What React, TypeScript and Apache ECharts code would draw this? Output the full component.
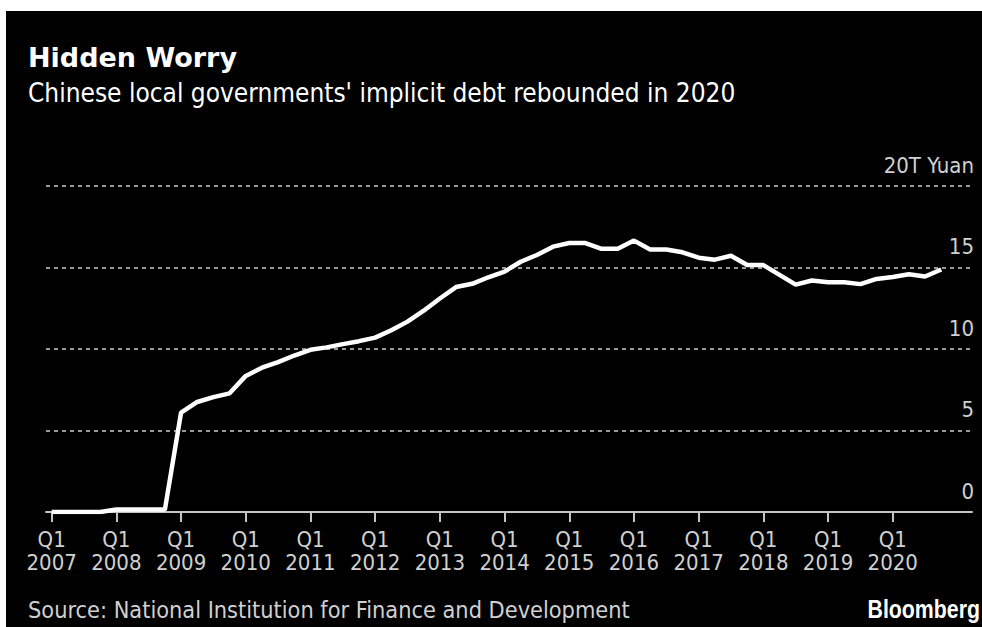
import React, { useEffect, useRef } from "react";
import * as echarts from "echarts";

// Tick labels (first quarter of each year)
const tickYears = [
  "2007", "2008", "2009", "2010", "2011", "2012", "2013",
  "2014", "2015", "2016", "2017", "2018", "2019", "2020",
];
const quarterNames = ["Q1", "Q2", "Q3", "Q4"];

// Implicit debt of Chinese local governments, trillion yuan, Q1 2007 .. Q4 2020
const debtTrillionYuan = [
  0, 0, 0, 0,
  0.15, 0.15, 0.15, 0.15,
  6.1, 6.75, 7.05, 7.28,
  8.35, 8.85, 9.2, 9.6,
  9.95, 10.1, 10.3, 10.48,
  10.7, 11.15, 11.68, 12.35,
  13.1, 13.8, 14.0, 14.4,
  14.75, 15.35, 15.77, 16.28,
  16.5, 16.5, 16.15, 16.15,
  16.65, 16.1, 16.1, 15.93,
  15.6, 15.48, 15.72, 15.15,
  15.15, 14.55, 13.95, 14.2,
  14.1, 14.1, 13.98, 14.3,
  14.42, 14.58, 14.45, 14.88,
];

const yTicks = [0, 5, 10, 15, 20];
const yUnit = "T Yuan";

const FONT = '"DejaVu Sans Condensed", "DejaVu Sans", sans-serif';

export default function App() {
  const ref = useRef<HTMLDivElement>(null);

  useEffect(() => {
    if (!ref.current) return;
    const chart = echarts.init(ref.current, undefined, { renderer: "svg" });

    const quarterLabels = tickYears.flatMap((y) => quarterNames.map((q) => `${q} ${y}`));
    const seriesData = debtTrillionYuan.map((v, i) => [i, v]);
    const tickPositions = tickYears.map((_, i) => i * 4);

    chart.setOption({
      animation: false,
      backgroundColor: "#000000",
      grid: { left: 46, right: 10, top: 186, bottom: 115, containLabel: false },
      xAxis: {
        type: "value",
        min: -0.35,
        max: 56.9,
        axisLine: { show: true, lineStyle: { color: "#c4c4c4", width: 2 } },
        axisTick: {
          show: true,
          length: 10,
          customValues: tickPositions,
          lineStyle: { color: "#c4c4c4", width: 2 },
        },
        axisLabel: {
          customValues: tickPositions,
          formatter: (v: number) => {
            const label = quarterLabels[Math.round(v)] || "";
            const [q, y] = label.split(" ");
            return `${q}\n${y}`;
          },
          color: "#d0d0d0",
          fontFamily: FONT,
          fontSize: 22,
          lineHeight: 23,
          margin: 16,
        },
        splitLine: { show: false },
      },
      yAxis: {
        type: "value",
        position: "right",
        min: yTicks[0],
        max: yTicks[yTicks.length - 1],
        interval: 5,
        axisLine: { show: false },
        axisTick: { show: false },
        axisLabel: {
          inside: true,
          margin: -2,
          verticalAlign: "bottom",
          padding: [0, 0, 10, 0],
          color: "#d0d0d0",
          fontFamily: FONT,
          fontSize: 22,
          formatter: (v: number) => (v === yTicks[yTicks.length - 1] ? `${v}${yUnit}` : `${v}`),
        },
        splitLine: {
          show: true,
          lineStyle: { color: "#9a9a9a", width: 2, type: [4, 4] },
        },
      },
      series: [
        {
          type: "line",
          data: seriesData,
          symbol: "none",
          lineStyle: { color: "#ffffff", width: 4.5 },
          z: 5,
        },
      ],
      graphic: [
        { type: "rect", left: 0, top: 0, shape: { width: 982, height: 11 }, style: { fill: "#ffffff" } },
        { type: "rect", left: 0, top: 0, shape: { width: 6, height: 627 }, style: { fill: "#ffffff" } },
        {
          type: "text",
          x: 28,
          y: 57,
          style: {
            text: "Hidden Worry",
            fill: "#ffffff",
            font: 'bold 27px "DejaVu Sans", sans-serif',
            textVerticalAlign: "middle",
          },
        },
        {
          type: "text",
          x: 28,
          y: 93,
          style: {
            text: "Chinese local governments' implicit debt rebounded in 2020",
            fill: "#ffffff",
            font: `26px ${FONT}`,
            textVerticalAlign: "middle",
          },
        },
        {
          type: "text",
          x: 28,
          y: 609,
          style: {
            text: "Source: National Institution for Finance and Development",
            fill: "#d0d0d0",
            font: `23.3px ${FONT}`,
            textVerticalAlign: "middle",
          },
        },
        {
          type: "text",
          x: 980,
          y: 609,
          scaleX: 0.82,
          style: {
            text: "Bloomberg",
            fill: "#ffffff",
            font: 'bold 26px "Liberation Sans", Arial, sans-serif',
            textAlign: "right",
            textVerticalAlign: "middle",
          },
        },
      ],
    });

    return () => chart.dispose();
  }, []);

  return (
    <div
      ref={ref}
      style={{ position: "fixed", left: 0, top: 0, width: "982px", height: "627px" }}
    />
  );
}
